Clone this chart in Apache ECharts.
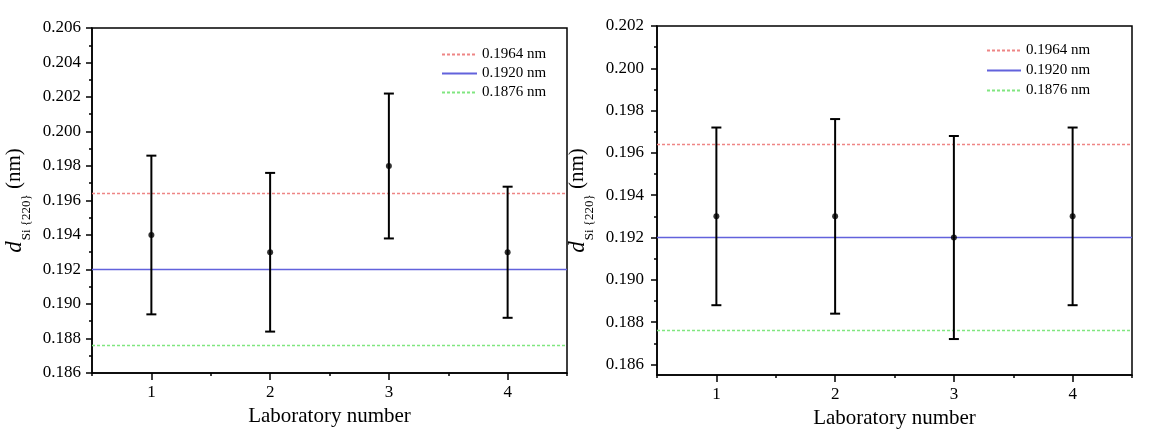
<!DOCTYPE html>
<html>
<head>
<meta charset="utf-8">
<script src="https://cdn.jsdelivr.net/npm/echarts@6/dist/echarts.min.js"></script>
<style>
html,body{margin:0;padding:0;background:#fff;}
#chart{width:1163px;height:434px;}
</style>
</head>
<body>
<div id="chart"></div>
<script>
// ---- data ----
const labs = [1, 2, 3, 4];
// left panel
const leftMean  = [0.1940, 0.1930, 0.1980, 0.1930];
const leftLow   = [0.1894, 0.1884, 0.1938, 0.1892];
const leftHigh  = [0.1986, 0.1976, 0.2022, 0.1968];
// right panel
const rightMean = [0.1930, 0.1930, 0.1920, 0.1930];
const rightLow  = [0.1888, 0.1884, 0.1872, 0.1888];
const rightHigh = [0.1972, 0.1976, 0.1968, 0.1972];
// reference lines
const refNames  = ['0.1964 nm', '0.1920 nm', '0.1876 nm'];
const refValues = [0.1964, 0.1920, 0.1876];
const xRange    = [0.5, 4.5];
// tick labels
const rightYTicks = [0.186, 0.188, 0.190, 0.192, 0.194, 0.196, 0.198, 0.200, 0.202];
const rightYMinor = [0.187, 0.189, 0.191, 0.193, 0.195, 0.197, 0.199, 0.201];
const xTicks = [1, 2, 3, 4];
const xHalfTicks = [0.5, 1.5, 2.5, 3.5, 4.5];

const FONT = 'Liberation Serif';
const refColors = ['#ee8585', '#6262dc', '#80e680'];
const refTypes = [[3, 2], 'solid', [3, 2]];

const chart = echarts.init(document.getElementById('chart'), null, {renderer: 'canvas'});

const yName = '{d|d}Si {220}{n| (nm)}';
const yNameStyle = {
  fontFamily: FONT, fontSize: 13, color: '#000',
  rich: {
    d: {fontFamily: FONT, fontSize: 23, fontStyle: 'italic', color: '#000', padding: [0, 1, 24, 0]},
    n: {fontFamily: FONT, fontSize: 21, color: '#000', padding: [0, 0, 24, 0]}
  }
};

function xAxes(gi) {
  return [
    {
      type: 'value', gridIndex: gi, min: xRange[0], max: xRange[1],
      name: 'Laboratory number', nameLocation: 'middle', nameGap: 28,
      nameTextStyle: {fontFamily: FONT, fontSize: 21, color: '#000'},
      axisLine: {lineStyle: {color: '#000', width: 1.5}},
      axisTick: {show: true, inside: false, length: 7, customValues: xTicks, lineStyle: {color: '#000', width: 1.5}},
      axisLabel: {customValues: xTicks, fontFamily: FONT, fontSize: 17, color: '#000', margin: 11},
      splitLine: {show: false}
    },
    {
      type: 'value', gridIndex: gi, min: xRange[0], max: xRange[1], position: 'bottom',
      axisLine: {show: false},
      axisTick: {show: true, length: 3, customValues: xHalfTicks, lineStyle: {color: '#000', width: 1.5}},
      axisLabel: {show: false},
      splitLine: {show: false}
    }
  ];
}

const legendBase = {
  orient: 'vertical', padding: 0, itemHeight: 14,
  textStyle: {fontFamily: FONT, fontSize: 15, color: '#000'},
  itemStyle: {opacity: 0},
  data: refNames, selectedMode: false
};

const option = {
  animation: false,
  backgroundColor: '#fff',
  grid: [
    {left: 92, top: 28, width: 475, height: 345, show: true, borderColor: '#000', borderWidth: 1.5, backgroundColor: 'transparent'},
    {left: 657, top: 26, width: 475, height: 349, show: true, borderColor: '#000', borderWidth: 1.5, backgroundColor: 'transparent'}
  ],
  legend: [
    Object.assign({}, legendBase, {left: 441, top: 47, itemWidth: 35, itemGap: 4}),
    Object.assign({}, legendBase, {left: 986, top: 43, itemWidth: 34, itemGap: 5})
  ],
  xAxis: [].concat(xAxes(0), xAxes(1)),
  yAxis: [
    {
      type: 'value', gridIndex: 0, min: 0.186, max: 0.206, interval: 0.002,
      name: yName, nameLocation: 'middle', nameGap: 42, nameTextStyle: yNameStyle,
      axisLine: {lineStyle: {color: '#000', width: 1.5}},
      axisTick: {show: true, length: 6, lineStyle: {color: '#000', width: 1.5}},
      minorTick: {show: true, splitNumber: 2, length: 3, lineStyle: {color: '#000', width: 1.5}},
      axisLabel: {fontFamily: FONT, fontSize: 17, color: '#000', margin: 11, formatter: v => v.toFixed(3)},
      splitLine: {show: false}
    },
    {
      type: 'value', gridIndex: 1, min: 0.1855, max: 0.202,
      name: yName, nameLocation: 'middle', nameGap: 44, nameTextStyle: yNameStyle,
      axisLine: {lineStyle: {color: '#000', width: 1.5}},
      axisTick: {show: true, length: 6, customValues: rightYTicks, lineStyle: {color: '#000', width: 1.5}},
      axisLabel: {customValues: rightYTicks, fontFamily: FONT, fontSize: 17, color: '#000', margin: 13, formatter: v => v.toFixed(3)},
      splitLine: {show: false}
    },
    {
      type: 'value', gridIndex: 1, min: 0.1855, max: 0.202, position: 'left',
      axisLine: {show: false},
      axisTick: {show: true, length: 3, customValues: rightYMinor, lineStyle: {color: '#000', width: 1.5}},
      axisLabel: {show: false},
      splitLine: {show: false}
    }
  ],
  series: []
};

function errorSeries(xi, yi, low, high) {
  return {
    type: 'custom', xAxisIndex: xi, yAxisIndex: yi, z: 5,
    data: labs.map((x, i) => [x, low[i], high[i]]),
    renderItem: function (params, api) {
      const x = api.value(0);
      const lo = api.coord([x, api.value(1)]);
      const hi = api.coord([x, api.value(2)]);
      const w = 5;
      const st = {stroke: '#000', lineWidth: 2};
      return {
        type: 'group',
        children: [
          {type: 'line', shape: {x1: lo[0], y1: lo[1], x2: hi[0], y2: hi[1]}, style: st},
          {type: 'line', shape: {x1: hi[0] - w, y1: hi[1], x2: hi[0] + w, y2: hi[1]}, style: st},
          {type: 'line', shape: {x1: lo[0] - w, y1: lo[1], x2: lo[0] + w, y2: lo[1]}, style: st}
        ]
      };
    }
  };
}
function pointSeries(xi, yi, mean) {
  return {
    type: 'scatter', xAxisIndex: xi, yAxisIndex: yi, z: 6,
    symbol: 'circle', symbolSize: 6, itemStyle: {color: '#000'},
    data: labs.map((x, i) => [x, mean[i]])
  };
}
function refSeries(xi, yi) {
  return refValues.map((v, k) => ({
    type: 'line', name: refNames[k], xAxisIndex: xi, yAxisIndex: yi, z: 3,
    symbol: 'none', showSymbol: false,
    color: refColors[k],
    lineStyle: {color: refColors[k], width: 1.5, type: refTypes[k]},
    emphasis: {disabled: true},
    data: [[xRange[0], v], [xRange[1], v]]
  }));
}

option.series = [].concat(
  refSeries(0, 0),
  [errorSeries(0, 0, leftLow, leftHigh), pointSeries(0, 0, leftMean)],
  refSeries(2, 1),
  [errorSeries(2, 1, rightLow, rightHigh), pointSeries(2, 1, rightMean)]
);

chart.setOption(option);
</script>
</body>
</html>
